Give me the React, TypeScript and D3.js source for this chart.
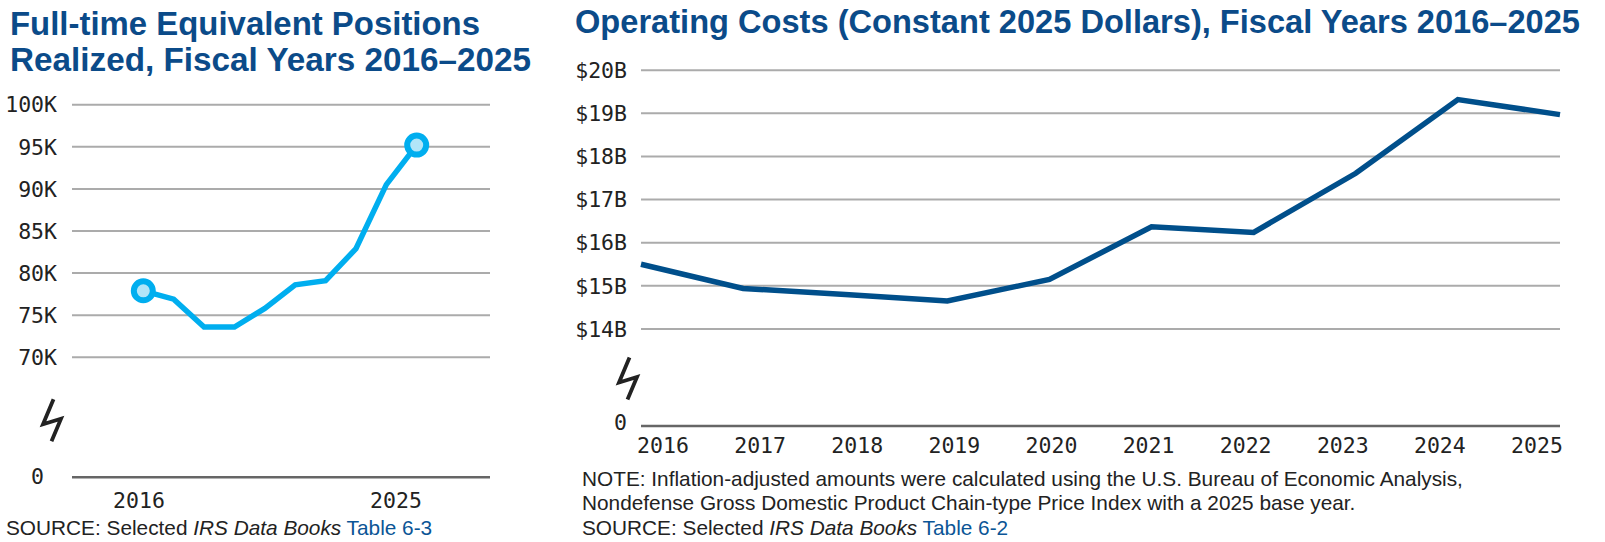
import * as d3 from 'd3'

// FTE positions realized (thousands), fiscal years 2016–2025
const fteYears = [2016, 2017, 2018, 2019, 2020, 2021, 2022, 2023, 2024, 2025]
const fteValues = [77.9, 76.9, 73.6, 73.6, 75.8, 78.6, 79.1, 82.9, 90.5, 95.2]
const fteTicks = [70, 75, 80, 85, 90, 95, 100]
const fteYearLabels = [2016, 2025]

// Operating costs, constant 2025 dollars (billions)
const costYears = [2016, 2017, 2018, 2019, 2020, 2021, 2022, 2023, 2024, 2025]
const costValues = [15.5, 14.94, 14.8, 14.65, 15.15, 16.37, 16.24, 17.61, 19.32, 18.97]
const costTicks = [14, 15, 16, 17, 18, 19, 20]

const TITLE_BLUE = '#0b4b89'
const LINK_BLUE = '#0b5596'
const TEXT = '#222'
const GRID = '#ababab'
const AXIS = '#666'
const TICK_FONT = "'DejaVu Sans Mono', monospace"
const SANS = "'Liberation Sans', Arial, sans-serif"
const NOTE_SIZE = 20.8

// zig-zag axis-break glyph centred at (cx, cy)
function Bolt({ cx, cy }: { cx: number; cy: number }) {
  const pts: [number, number][] = [[1.5, -21], [-9, 4], [9, -1.5], [-0.5, 21]]
  return (
    <path
      d={d3.line()(pts.map(([x, y]) => [cx + x, cy + y]))!}
      fill="none"
      stroke={TEXT}
      strokeWidth={3.8}
      strokeLinejoin="miter"
    />
  )
}

function Title({ x, y, width, children }: { x: number; y: number; width: number; children: string }) {
  return (
    <text
      x={x}
      y={y}
      fill={TITLE_BLUE}
      fontFamily={SANS}
      fontWeight="bold"
      fontSize={32.5}
      textLength={width}
      lengthAdjust="spacingAndGlyphs"
    >
      {children}
    </text>
  )
}

function FteChart() {
  const x = d3.scaleLinear().domain([2016, 2025]).range([143.3, 416.7])
  const xLabel = d3.scaleLinear().domain([2016, 2025]).range([139, 396])
  // broken axis: 0 at the baseline, 70K–100K above the break
  const y = d3.scaleLinear().domain([0, 70, 100]).range([477.3, 357.3, 104.7])
  const line = d3
    .line<number>()
    .x((_, i) => x(fteYears[i]))
    .y((d) => y(d))
  const left = 72
  const right = 490
  const ends = [0, fteValues.length - 1]

  return (
    <g>
      <Title x={10} y={35} width={470}>Full-time Equivalent Positions</Title>
      <Title x={10} y={71} width={521}>Realized, Fiscal Years 2016–2025</Title>

      {fteTicks.map((t) => (
        <g key={t}>
          <line x1={left} x2={right} y1={y(t)} y2={y(t)} stroke={GRID} strokeWidth={2} />
          <text x={57} y={y(t)} dy="0.36em" textAnchor="end" fontFamily={TICK_FONT} fontSize={21.5} fill={TEXT}>
            {t}K
          </text>
        </g>
      ))}
      <line x1={left} x2={right} y1={y(0)} y2={y(0)} stroke={AXIS} strokeWidth={2.5} />
      <text x={57} dx={-13} y={y(0)} dy="0.3em" textAnchor="end" fontFamily={TICK_FONT} fontSize={21.5} fill={TEXT}>
        0
      </text>
      <Bolt cx={52} cy={(y(0) + y(70)) / 2 + 3} />

      {fteYearLabels.map((yr) => (
        <text key={yr} x={xLabel(yr)} y={508} textAnchor="middle" fontFamily={TICK_FONT} fontSize={21.5} fill={TEXT}>
          {yr}
        </text>
      ))}

      <path d={line(fteValues)!} fill="none" stroke="#00aeef" strokeWidth={5.5} strokeLinejoin="miter" />
      {ends.map((i) => (
        <circle key={i} cx={x(fteYears[i])} cy={y(fteValues[i])} r={9.5} fill="#b2e5f8" stroke="#00aeef" strokeWidth={6} />
      ))}

      <text x={6} y={535} fontFamily={SANS} fontSize={NOTE_SIZE} fill={TEXT}>
        SOURCE: Selected <tspan fontStyle="italic">IRS Data Books</tspan>
        <tspan fill={LINK_BLUE}> Table 6-3</tspan>
      </text>
    </g>
  )
}

function CostChart() {
  const x = d3.scaleLinear().domain([2016, 2025]).range([641, 1560])
  const xLabel = d3.scaleLinear().domain([2016, 2025]).range([663, 1537])
  const y = d3.scaleLinear().domain([0, 14, 20]).range([426, 329, 70.2])
  const line = d3
    .line<number>()
    .x((_, i) => x(costYears[i]))
    .y((d) => y(d))
  const left = 641
  const right = 1560

  return (
    <g>
      <Title x={575} y={33} width={1005}>Operating Costs (Constant 2025 Dollars), Fiscal Years 2016–2025</Title>

      {costTicks.map((t) => (
        <g key={t}>
          <line x1={left} x2={right} y1={y(t)} y2={y(t)} stroke={GRID} strokeWidth={2} />
          <text x={627} y={y(t)} dy="0.36em" textAnchor="end" fontFamily={TICK_FONT} fontSize={21.5} fill={TEXT}>
            ${t}B
          </text>
        </g>
      ))}
      <line x1={left} x2={right} y1={y(0)} y2={y(0)} stroke={AXIS} strokeWidth={2.5} />
      <text x={627} y={y(0)} dy="0.2em" textAnchor="end" fontFamily={TICK_FONT} fontSize={21.5} fill={TEXT}>
        0
      </text>
      <Bolt cx={628} cy={(y(0) + y(14)) / 2 + 1} />

      {costYears.map((yr) => (
        <text key={yr} x={xLabel(yr)} y={453} textAnchor="middle" fontFamily={TICK_FONT} fontSize={21.5} fill={TEXT}>
          {yr}
        </text>
      ))}

      <path d={line(costValues)!} fill="none" stroke="#004f8b" strokeWidth={5.5} strokeLinejoin="miter" />

      <g fontFamily={SANS} fontSize={NOTE_SIZE} fill={TEXT}>
        <text x={582} y={486}>
          NOTE: Inflation-adjusted amounts were calculated using the U.S. Bureau of Economic Analysis,
        </text>
        <text x={582} y={510}>
          Nondefense Gross Domestic Product Chain-type Price Index with a 2025 base year.
        </text>
        <text x={582} y={535}>
          SOURCE: Selected <tspan fontStyle="italic">IRS Data Books</tspan>
          <tspan fill={LINK_BLUE}> Table 6-2</tspan>
        </text>
      </g>
    </g>
  )
}

export default function App() {
  return (
    <div style={{ position: 'absolute', left: 0, top: 0 }}>
      <svg width={1605} height={542} style={{ display: 'block', background: '#fff' }}>
        <FteChart />
        <CostChart />
      </svg>
    </div>
  )
}
